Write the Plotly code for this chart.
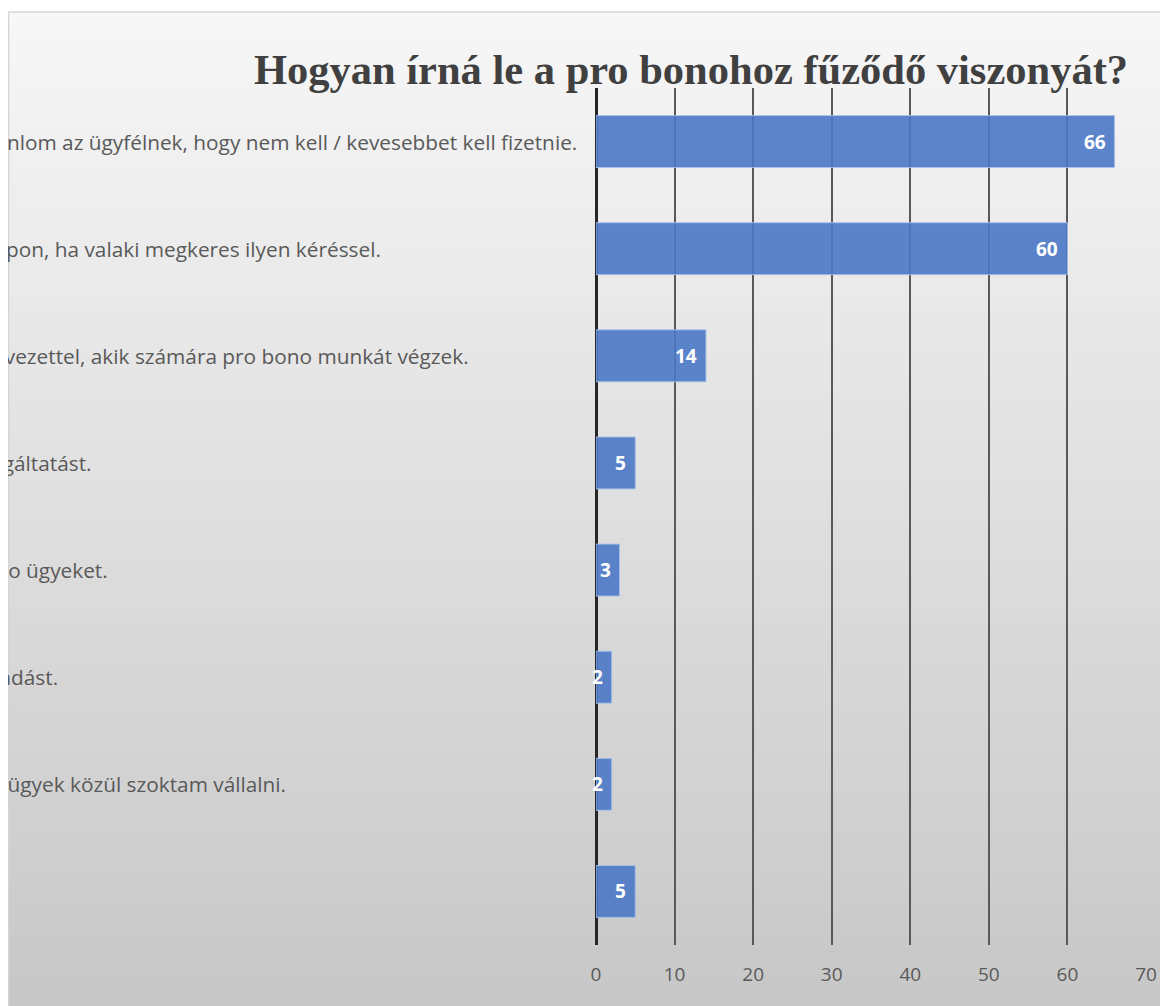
import plotly.graph_objects as go

# ---------------- data ----------------
TITLE = "Hogyan írná le a pro bonohoz fűződő viszonyát?"
categories = [
    "Szükség esetén felajánlom az ügyfélnek, hogy nem kell / kevesebbet kell fizetnie.",
    "Legtöbbször eseti alapon, ha valaki megkeres ilyen kéréssel.",
    "Dolgozom egyes szervezettel, akik számára pro bono munkát végzek.",
    "Végzek ingyenes szolgáltatást.",
    "Nem vállalok pro bono ügyeket.",
    "Tartok díjmentes előadást.",
    "Csak az izgalmas jogi ügyek közül szoktam vállalni.",
    "Egyéb",
]
values = [66, 60, 14, 5, 3, 2, 2, 5]
x_ticks = [0, 10, 20, 30, 40, 50, 60, 70]

# ---------------- layout geometry (figure sits 8px into the page) ----------------
W, H = 1160, 998
ML, MR, MT, MB = 588, 22, 80, 61
PW = W - ML - MR
PH = H - MT - MB


def px_x(px):
    return (px - ML) / PW


def px_y(py):
    return (H - MB - py) / PH


LABEL_FONT = "Open Sans"
GRAY_TXT = "#595959"

fig = go.Figure(
    go.Bar(
        x=values,
        y=categories,
        orientation="h",
        width=0.485,
        marker=dict(color="rgba(75,120,197,0.9)",
                    line=dict(color="rgba(170,195,235,0.9)", width=1)),
        hoverinfo="x+y",
    )
)

# background gradient bands
shapes = []
n = 70
top, bot = 4, H
for i in range(n):
    y0 = top + (bot - top) * i / n
    y1 = top + (bot - top) * (i + 1) / n + 1
    t = (i + 0.5) / n
    c = round(247 - 48 * t)
    shapes.append(dict(type="rect", xref="paper", yref="paper",
                       x0=px_x(0), x1=px_x(W + 2), y0=px_y(min(y1, H + 2)), y1=px_y(y0),
                       fillcolor=f"rgb({c},{c},{c})", line_width=0, layer="below"))
# chart border (top and left)
shapes.append(dict(type="line", xref="paper", yref="paper",
                   x0=px_x(0), x1=px_x(W + 2), y0=px_y(4), y1=px_y(4),
                   line=dict(color="#d4d4d4", width=1.5), layer="below"))
shapes.append(dict(type="line", xref="paper", yref="paper",
                   x0=px_x(0.5), x1=px_x(0.5), y0=px_y(4), y1=px_y(H + 2),
                   line=dict(color="#d4d4d4", width=1.5), layer="below"))

annotations = []
# category labels, left aligned, starting beyond the left edge of the figure
for cat in categories:
    annotations.append(dict(
        x=px_x(-209), xref="paper", y=cat, yref="y", text=cat,
        xanchor="left", yanchor="middle", showarrow=False, align="left",
        font=dict(family=LABEL_FONT, size=20.8, color=GRAY_TXT)))

# value labels (inside end)
for cat, v in zip(categories, values):
    annotations.append(dict(
        x=v, xref="x", y=cat, yref="y", text=str(v),
        xanchor="right", yanchor="middle", xshift=-7, showarrow=False,
        font=dict(family=LABEL_FONT, size=19, color="white", weight="bold")))

fig.update_layout(
    width=W, height=H,
    margin=dict(l=ML, r=MR, t=MT, b=MB, autoexpand=False),
    paper_bgcolor="white",
    plot_bgcolor="rgba(0,0,0,0)",
    showlegend=False,
    shapes=shapes,
    annotations=annotations,
    title=dict(text=TITLE, x=683 / W, xref="container", xanchor="center",
               y=1 - 61 / H, yref="container", yanchor="middle",
               font=dict(family="Liberation Serif", size=42.5, color="#404040", weight="bold")),
    xaxis=dict(range=[0, 70], tickvals=x_ticks, showgrid=True, gridcolor="#595959", gridwidth=2,
               zeroline=True, zerolinecolor="#262626", zerolinewidth=2.5,
               showline=False, ticks="", ticklabelstandoff=16,
               tickfont=dict(family=LABEL_FONT, size=19, color=GRAY_TXT)),
    yaxis=dict(type="category", categoryorder="array", categoryarray=categories,
               range=[len(categories) - 0.5, -0.5], showticklabels=False,
               showgrid=False, zeroline=False, showline=False),
)

fig.write_html("out.html")
